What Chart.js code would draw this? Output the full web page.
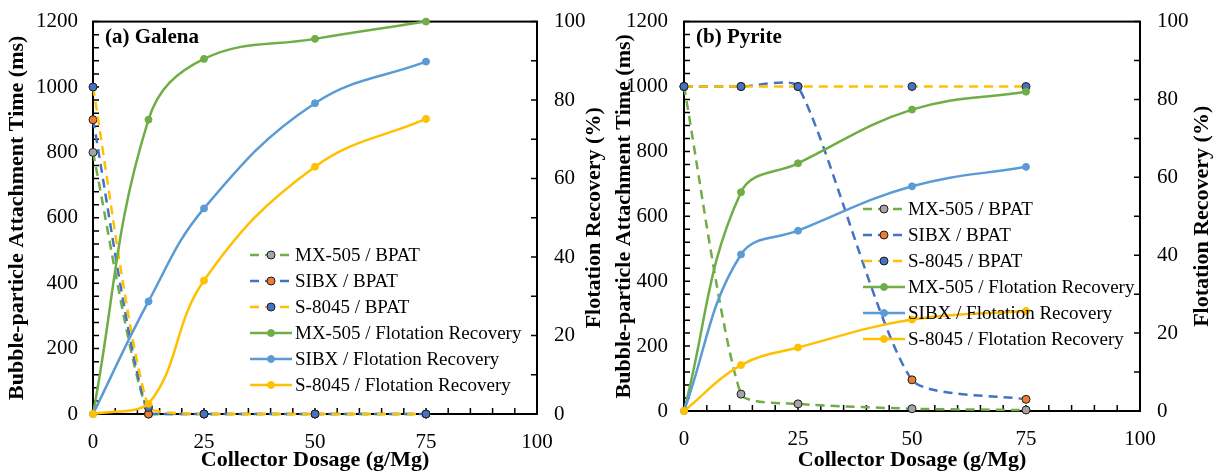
<!DOCTYPE html>
<html>
<head>
<meta charset="utf-8">
<title>BPAT and flotation recovery</title>
<script src="https://cdn.jsdelivr.net/npm/chart.js@4/dist/chart.umd.min.js"></script>
<style>
  html, body { margin: 0; padding: 0; background: #fff; }
  #wrap { width: 1219px; height: 476px; display: flex; }
  canvas { display: block; }
</style>
</head>
<body>
<div id="wrap">
  <canvas id="galena" width="609" height="476"></canvas>
  <canvas id="pyrite" width="610" height="476"></canvas>
</div>
<script>
// collector dosage, g/Mg
var dosage = [0, 12.5, 25, 50, 75];

// galena: bubble-particle attachment time (ms)
var galenaBpatMx505 = [800, 0, 0, 0, 0];
var galenaBpatSibx = [900, 0, 0, 0, 0];
var galenaBpatS8045 = [1000, 20, 0, 0, 0];
// galena: flotation recovery (%)
var galenaRecMx505 = [0, 75, 90.5, 95.6, 100];
var galenaRecSibx = [0, 28.7, 52.4, 79.2, 89.8];
var galenaRecS8045 = [0, 2.6, 34, 63, 75.2];

// pyrite
var pyriteBpatMx505 = [1000, 52, 22, 7, 3];
var pyriteBpatSibx = [1000, 1000, 1000, 96, 36];
var pyriteBpatS8045 = [1000, 1000, 1000, 1000, 1000];
var pyriteRecMx505 = [0, 56.2, 63.6, 77.4, 82];
var pyriteRecSibx = [0, 40.2, 46.3, 57.7, 62.7];
var pyriteRecS8045 = [0, 11.8, 16.3, 23.5, 25.7];

var bpatTicks = [0, 200, 400, 600, 800, 1000, 1200];
var recTicks = [0, 20, 40, 60, 80, 100];
var dosageTicks = [0, 25, 50, 75, 100];

var FONT = "'Liberation Serif', 'Times New Roman', serif";
Chart.defaults.font.family = FONT;
Chart.defaults.color = '#000';

function pts(values) {
    return dosage.map(function (x, i) { return { x: x, y: values[i] }; });
}

function bpatSet(label, values, lineColor, markColor, order) {
    return {
        label: label, data: pts(values), yAxisID: 'y',
        borderColor: lineColor, borderWidth: 2.5, borderDash: [9, 6],
        pointRadius: 4, pointBackgroundColor: markColor,
        pointBorderColor: '#1e1e1e', pointBorderWidth: 1,
        tension: 0.2, clip: 7, order: order
    };
}

function recSet(label, values, color, order) {
    return {
        label: label, data: pts(values), yAxisID: 'y1',
        borderColor: color, borderWidth: 2.5,
        pointRadius: 3.5, pointBackgroundColor: color,
        pointBorderColor: color, pointBorderWidth: 1,
        tension: 0.4, clip: 7, order: order
    };
}

function seriesFor(b1, b2, b3, r1, r2, r3) {
    return [
        bpatSet('MX-505 / BPAT', b1, '#70AD47', '#A5A5A5', 6),
        bpatSet('SIBX / BPAT', b2, '#4472C4', '#ED7D31', 5),
        bpatSet('S-8045 / BPAT', b3, '#FFC000', '#4472C4', 4),
        recSet('MX-505 / Flotation Recovery', r1, '#70AD47', 3),
        recSet('SIBX / Flotation Recovery', r2, '#5B9BD5', 2),
        recSet('S-8045 / Flotation Recovery', r3, '#FFC000', 1)
    ];
}

function plain(v) { return String(v); }

// frame, inward tick marks, panel label, right-hand title and legend
var decor = {
    id: 'decor',
    beforeDatasetsDraw: function (chart) {
        var ctx = chart.ctx, a = chart.chartArea, s = chart.scales;
        ctx.save();
        ctx.strokeStyle = '#000';
        ctx.lineWidth = 1.5;
        ctx.beginPath();
        for (var v = 0; v <= 100; v += 5) {
            var px = s.x.getPixelForValue(v);
            ctx.moveTo(px, a.bottom); ctx.lineTo(px, a.bottom - 6);
        }
        for (v = 0; v <= 1200; v += 40) {
            var py = s.y.getPixelForValue(v);
            ctx.moveTo(a.left, py); ctx.lineTo(a.left + 6, py);
        }
        for (v = 0; v <= 100; v += 10) {
            py = s.y1.getPixelForValue(v);
            ctx.moveTo(a.right, py); ctx.lineTo(a.right - 6, py);
        }
        ctx.stroke();
        ctx.lineWidth = 2;
        ctx.strokeRect(a.left, a.top, a.width, a.height);
        ctx.restore();
    },
    afterDatasetsDraw: function (chart, args, opts) {
        var ctx = chart.ctx, a = chart.chartArea;
        ctx.save();
        ctx.fillStyle = '#000';
        ctx.font = 'bold 21px ' + FONT;
        ctx.textBaseline = 'middle';
        ctx.fillText(opts.panel, a.left + 12, 38);

        // right axis title, reading upwards
        ctx.save();
        ctx.font = 'bold 22px ' + FONT;
        ctx.translate(opts.rightTitleX, (a.top + a.bottom) / 2);
        ctx.rotate(-Math.PI / 2);
        ctx.textAlign = 'center';
        ctx.fillText('Flotation Recovery (%)', 0, 0);
        ctx.restore();

        ctx.font = '19px ' + FONT;
        chart.data.datasets.forEach(function (ds, i) {
            var y = opts.legendY + i * 26;
            var x0 = opts.legendX;
            ctx.save();
            ctx.strokeStyle = ds.borderColor;
            ctx.lineWidth = ds.borderWidth;
            ctx.setLineDash(ds.borderDash || []);
            ctx.beginPath();
            ctx.moveTo(x0, y); ctx.lineTo(x0 + 42, y);
            ctx.stroke();
            ctx.setLineDash([]);
            ctx.beginPath();
            ctx.arc(x0 + 21, y, ds.pointRadius, 0, Math.PI * 2);
            ctx.fillStyle = ds.pointBackgroundColor;
            ctx.fill();
            ctx.lineWidth = ds.pointBorderWidth;
            ctx.strokeStyle = ds.pointBorderColor;
            ctx.stroke();
            ctx.restore();
            ctx.fillText(ds.label, x0 + 45, y + 1);
        });
        ctx.restore();
    }
};

function makeChart(id, cfg) {
    return new Chart(document.getElementById(id), {
        type: 'line',
        data: { datasets: cfg.datasets },
        options: {
            responsive: false,
            animation: false,
            layout: { padding: { top: 16, right: 0, bottom: 0, left: 0 } },
            plugins: {
                legend: { display: false },
                tooltip: { enabled: false },
                decor: cfg.decor
            },
            scales: {
                x: {
                    type: 'linear', min: 0, max: 100,
                    grid: { display: false }, border: { display: false },
                    afterBuildTicks: function (s) { s.ticks = dosageTicks.map(function (v) { return { value: v }; }); },
                    ticks: { font: { size: 21 }, padding: 8, maxRotation: 0, callback: plain },
                    title: { display: true, text: 'Collector Dosage (g/Mg)', font: { size: 22, weight: 'bold' }, padding: { top: 0, bottom: 2 } },
                    afterFit: function (s) { s.height = cfg.xHeight; }
                },
                y: {
                    position: 'left', min: 0, max: 1200,
                    grid: { display: false }, border: { display: false },
                    afterBuildTicks: function (s) { s.ticks = bpatTicks.map(function (v) { return { value: v }; }); },
                    ticks: { font: { size: 21 }, padding: cfg.leftPad, callback: plain },
                    title: { display: true, text: 'Bubble-particle Attachment Time (ms)', font: { size: 22, weight: 'bold' }, padding: cfg.leftTitlePad },
                    afterFit: function (s) { s.width = cfg.leftW; }
                },
                y1: {
                    position: 'right', min: 0, max: 100,
                    grid: { display: false }, border: { display: false },
                    afterBuildTicks: function (s) { s.ticks = recTicks.map(function (v) { return { value: v }; }); },
                    ticks: { font: { size: 21 }, padding: 9, callback: plain },
                    afterFit: function (s) { s.width = cfg.rightW; }
                }
            }
        },
        plugins: [decor]
    });
}

makeChart('galena', {
    datasets: seriesFor(galenaBpatMx505, galenaBpatSibx, galenaBpatS8045,
        galenaRecMx505, galenaRecSibx, galenaRecS8045),
    leftW: 93, rightW: 72, xHeight: 62, leftPad: 7,
    leftTitlePad: { top: 4, bottom: 4 },
    decor: { panel: '(a) Galena', rightTitleX: 594, legendX: 250, legendY: 255 }
});

makeChart('pyrite', {
    datasets: seriesFor(pyriteBpatMx505, pyriteBpatSibx, pyriteBpatS8045,
        pyriteRecMx505, pyriteRecSibx, pyriteRecS8045),
    leftW: 75, rightW: 79, xHeight: 65, leftPad: 8,
    leftTitlePad: { top: 2, bottom: 0 },
    decor: { panel: '(b) Pyrite', rightTitleX: 593, legendX: 254, legendY: 209 }
});
</script>
</body>
</html>
